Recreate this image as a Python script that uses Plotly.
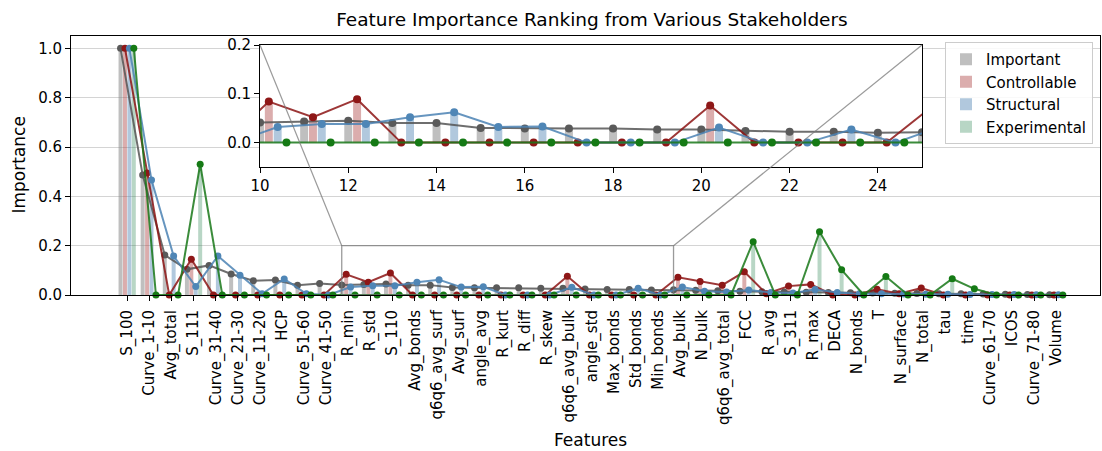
import numpy as np
import plotly.graph_objects as go

features = ["S_100", "Curve_1-10", "Avg_total", "S_111", "Curve_31-40", "Curve_21-30",
            "Curve_11-20", "HCP", "Curve_51-60", "Curve_41-50", "R_min", "R_std", "S_110",
            "Avg_bonds", "q6q6_avg_surf", "Avg_surf", "angle_avg", "R_kurt", "R_diff",
            "R_skew", "q6q6_avg_bulk", "angle_std", "Max_bonds", "Std_bonds", "Min_bonds",
            "Avg_bulk", "N_bulk", "q6q6_avg_total", "FCC", "R_avg", "S_311", "R_max",
            "DECA", "N_bonds", "T", "N_surface", "N_total", "tau", "time", "Curve_61-70",
            "ICOS", "Curve_71-80", "Volume"]

important = [1.0, 0.486, 0.162, 0.104, 0.120, 0.085, 0.058, 0.061, 0.040, 0.047,
             0.041, 0.043, 0.045, 0.040, 0.040, 0.030, 0.029, 0.029, 0.029, 0.027,
             0.027, 0.024, 0.022, 0.022, 0.020, 0.021, 0.019, 0.017, 0.015, 0.013,
             0.012, 0.011, 0.010, 0.009, 0.008, 0.007, 0.006, 0.005, 0.005, 0.004,
             0.003, 0.002, 0.001]

controllable = [1.0, 0.495, 0.0, 0.145, 0.0, 0.0, 0.0, 0.0, 0.0, 0.0,
                0.084, 0.052, 0.089, 0.0, 0.0, 0.0, 0.0, 0.0, 0.0, 0.0,
                0.076, 0.0, 0.0, 0.0, 0.0, 0.072, 0.055, 0.040, 0.094, 0.005,
                0.036, 0.043, 0.0, 0.0, 0.023, 0.005, 0.028, 0.0, 0.0, 0.0,
                0.0, 0.0, 0.0]

structural = [1.0, 0.466, 0.158, 0.034, 0.158, 0.080, 0.005, 0.065, 0.005, 0.0,
              0.032, 0.038, 0.038, 0.052, 0.062, 0.032, 0.033, 0.0, 0.0, 0.0,
              0.031, 0.0, 0.0, 0.027, 0.0, 0.032, 0.015, 0.012, 0.020, 0.010,
              0.008, 0.022, 0.010, 0.005, 0.005, 0.004, 0.003, 0.003, 0.002, 0.002,
              0.002, 0.001, 0.001]

experimental = [1.0, 0.0, 0.0, 0.530, 0.0, 0.0, 0.0, 0.0, 0.0, 0.0,
                0.0, 0.0, 0.0, 0.0, 0.0, 0.0, 0.0, 0.0, 0.0, 0.0,
                0.0, 0.0, 0.0, 0.0, 0.0, 0.0, 0.0, 0.0, 0.216, 0.0,
                0.0, 0.256, 0.102, 0.0, 0.075, 0.0, 0.0, 0.066, 0.025, 0.0,
                0.0, 0.0, 0.0]

series_names = ["Important", "Controllable", "Structural", "Experimental"]
series_values = [important, controllable, structural, experimental]
bar_colors = ["rgba(128,128,128,0.5)", "rgba(170,60,60,0.42)",
              "rgba(70,125,175,0.42)", "rgba(40,130,80,0.33)"]
line_colors = ["rgba(85,85,85,0.85)", "rgba(140,20,20,0.85)",
               "rgba(75,130,180,0.85)", "rgba(25,120,25,0.85)"]
marker_colors = ["#5a5a5a", "#8e1717", "#4f86b6", "#157a15"]

offset = 0.2
bar_width = 0.18
idx = np.arange(len(features))

W, H = 1102, 451
ML, MR, MT, MB = 71, 2, 36, 156
PW, PH = W - ML - MR, H - MT - MB

main_xrange = [-2.24, 44.28]
main_yrange = [0, 1.05]
inset_xrange = [10, 25]
inset_yrange = [-0.05, 0.2]
inset_xdom = [(260 - ML) / PW, (922 - ML) / PW]
inset_ydom = [(H - MB - 167) / PH, (H - MB - 45) / PH]

FONT = "DejaVu Sans"
fig = go.Figure()

for k, (name, vals) in enumerate(zip(series_names, series_values)):
    fig.add_trace(go.Bar(x=idx + k * offset, y=vals, width=bar_width, name=name,
                         legendgroup=name, marker=dict(color=bar_colors[k], line=dict(width=0)),
                         xaxis="x", yaxis="y", hoverinfo="skip"))
for k, (name, vals) in enumerate(zip(series_names, series_values)):
    fig.add_trace(go.Scatter(x=idx + k * offset, y=vals, mode="lines+markers",
                             line=dict(color=line_colors[k], width=2),
                             marker=dict(color=marker_colors[k], size=7),
                             showlegend=False, cliponaxis=False, xaxis="x", yaxis="y"))
for k, (name, vals) in enumerate(zip(series_names, series_values)):
    fig.add_trace(go.Bar(x=idx + k * offset, y=vals, width=bar_width, showlegend=False,
                         marker=dict(color=bar_colors[k], line=dict(width=0)),
                         xaxis="x2", yaxis="y2", hoverinfo="skip"))
for k, (name, vals) in enumerate(zip(series_names, series_values)):
    fig.add_trace(go.Scatter(x=idx + k * offset, y=vals, mode="lines+markers",
                             line=dict(color=line_colors[k], width=2),
                             marker=dict(color=marker_colors[k], size=8),
                             showlegend=False, cliponaxis=True, xaxis="x2", yaxis="y2"))

axis_common = dict(showline=True, linecolor="black", linewidth=1, mirror=True,
                   ticks="outside", ticklen=5, tickcolor="black", zeroline=False,
                   automargin=False,
                   tickfont=dict(family=FONT, size=15, color="black"))

fig.update_layout(
    width=W, height=H,
    margin=dict(l=ML, r=MR, t=MT, b=MB, autoexpand=False),
    paper_bgcolor="white", plot_bgcolor="white",
    barmode="overlay",
    font=dict(family=FONT, color="black"),
    title=dict(text="Feature Importance Ranking from Various Stakeholders",
               x=592 / W, xref="container", xanchor="center",
               y=1 - 20 / H, yref="container", yanchor="middle",
               font=dict(family=FONT, size=18.5, color="black")),
    xaxis=dict(domain=[0, 1], range=main_xrange, tickvals=idx + 1.5 * offset,
               ticktext=features, tickangle=-90, showgrid=False,
               ticklabelstandoff=3, **axis_common),
    yaxis=dict(domain=[0, 1], range=main_yrange, tickvals=[0, 0.2, 0.4, 0.6, 0.8, 1.0],
               tickformat=".1f", showgrid=True, gridcolor="#d4d4d4", gridwidth=1,
               **axis_common),
    xaxis2=dict(domain=inset_xdom, anchor="y2", range=inset_xrange, tick0=10, dtick=2,
                showgrid=False, **axis_common),
    yaxis2=dict(domain=inset_ydom, anchor="x2", range=inset_yrange,
                tickvals=[0, 0.1, 0.2], tickformat=".1f", showgrid=False, **axis_common),
    legend=dict(x=(945 - ML) / PW, xanchor="left", y=1 - (42 - MT) / PH, yanchor="top",
                bgcolor="rgba(255,255,255,0.85)", bordercolor="#cccccc", borderwidth=1,
                font=dict(family=FONT, size=15, color="black"), tracegroupgap=6,
                traceorder="normal"),
)

fig.add_annotation(text="Importance", xref="paper", yref="paper",
                   x=(18 - ML) / PW, y=0.5, textangle=-90, showarrow=False,
                   xanchor="center", yanchor="middle",
                   font=dict(family=FONT, size=17, color="black"))
fig.add_annotation(text="Features", xref="paper", yref="paper",
                   x=(590 - ML) / PW, y=-(440 - (H - MB)) / PH, showarrow=False,
                   xanchor="center", yanchor="middle",
                   font=dict(family=FONT, size=17, color="black"))


def to_paper(v, rng, dom):
    return dom[0] + (v - rng[0]) / (rng[1] - rng[0]) * (dom[1] - dom[0])


ind_color = "rgba(120,120,120,0.75)"
fig.add_shape(type="rect", xref="x", yref="y", x0=inset_xrange[0], x1=inset_xrange[1],
              y0=max(inset_yrange[0], main_yrange[0]), y1=inset_yrange[1],
              line=dict(color=ind_color, width=1.3), layer="above")

for xv in inset_xrange:
    px_inset = to_paper(xv, inset_xrange, inset_xdom)
    py_inset = inset_ydom[1]
    px_main = to_paper(xv, main_xrange, [0, 1])
    py_main = to_paper(inset_yrange[1], main_yrange, [0, 1])
    fig.add_shape(type="line", xref="paper", yref="paper", x0=px_inset, y0=py_inset,
                  x1=px_main, y1=py_main, line=dict(color=ind_color, width=1.2),
                  layer="above")

fig.write_html("out.html", config={"displayModeBar": False},
               post_script="document.body.style.margin='0px';document.body.style.padding='0px';")
